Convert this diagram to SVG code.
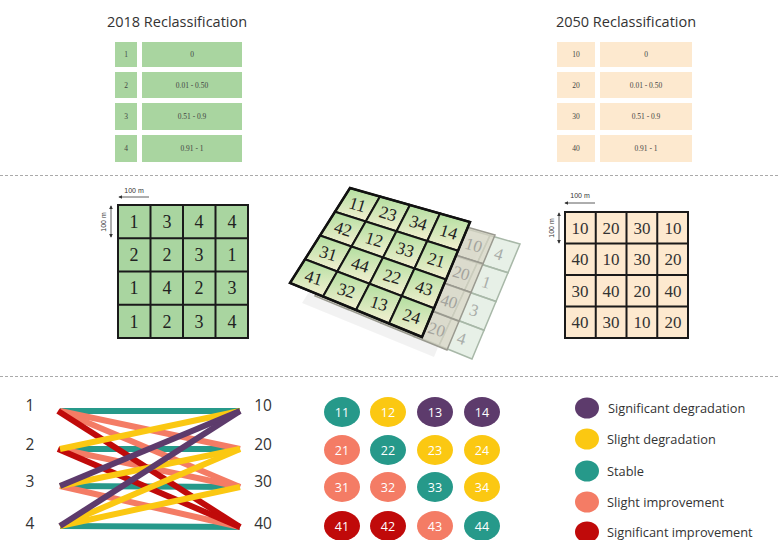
<svg xmlns="http://www.w3.org/2000/svg" xmlns:xlink="http://www.w3.org/1999/xlink" width="779" height="540" viewBox="0 0 779 540">
<style>
.title{font-family:"Open Sans","Liberation Sans",sans-serif;font-size:14.5px;fill:#333;text-anchor:middle}
.tc{font-family:"Liberation Serif",serif;font-size:7.5px;fill:#444;text-anchor:middle}
.g18{fill:#a9d5a0}
.g50{fill:#fde9cf}
.gn{font-family:"Liberation Serif",serif;font-size:18px;fill:#222;text-anchor:middle}
.gn50{font-family:"Liberation Serif",serif;font-size:17px;fill:#333;text-anchor:middle}
.grid{fill:none;stroke:#1a1a1a;stroke-width:2}
.scale{font-family:"Liberation Sans",sans-serif;font-size:7px;fill:#333;text-anchor:middle}
.sl{stroke:#333;stroke-width:0.8;fill:none}
.fn{font-family:"Liberation Serif",serif;font-size:17.5px;fill:#222;text-anchor:middle}
.bn{font-family:"Liberation Serif",serif;font-size:17px;fill:#777;text-anchor:middle;opacity:0.55}
.lab{font-family:"Open Sans","Liberation Sans",sans-serif;font-size:15.5px;fill:#333;text-anchor:middle}
.ln{stroke-width:6;fill:none}
.teal{stroke:#26998a}.salmon{stroke:#f47c65}.red{stroke:#c00a0a}.yellow{stroke:#fbc812}.purple{stroke:#5d3b6c}
.cn{font-family:"Open Sans","Liberation Sans",sans-serif;font-size:12.5px;fill:#fff;text-anchor:middle}
.leg{font-family:"Open Sans","Liberation Sans",sans-serif;font-size:12.8px;fill:#333}
.sep{stroke:#aaa;stroke-width:1;stroke-dasharray:3 2}
</style>
<defs>
<linearGradient id="cellGrad" x1="0" y1="0" x2="0" y2="1">
<stop offset="0" stop-color="#b2de9f"/>
<stop offset="1" stop-color="#f4f0d2"/>
</linearGradient>
<marker id="ar" viewBox="0 0 6 6" refX="5" refY="3" markerWidth="5" markerHeight="5" orient="auto-start-reverse">
<path d="M0,0 L6,3 L0,6 z" fill="#333"/>
</marker>
<g id="quads">
<polygon points="350,188 380,196.5 365.75,221.5 335,211.75"/>
<polygon points="380,196.5 410,205 396.5,231.25 365.75,221.5"/>
<polygon points="410,205 440,213.5 427.25,241 396.5,231.25"/>
<polygon points="440,213.5 470,222 458,250.75 427.25,241"/>
<polygon points="335,211.75 365.75,221.5 351.5,246.5 320,235.5"/>
<polygon points="365.75,221.5 396.5,231.25 383,257.5 351.5,246.5"/>
<polygon points="396.5,231.25 427.25,241 414.5,268.5 383,257.5"/>
<polygon points="427.25,241 458,250.75 446,279.5 414.5,268.5"/>
<polygon points="320,235.5 351.5,246.5 337.25,271.5 305,259.25"/>
<polygon points="351.5,246.5 383,257.5 369.5,283.75 337.25,271.5"/>
<polygon points="383,257.5 414.5,268.5 401.75,296 369.5,283.75"/>
<polygon points="414.5,268.5 446,279.5 434,308.25 401.75,296"/>
<polygon points="305,259.25 337.25,271.5 323,296.5 290,283"/>
<polygon points="337.25,271.5 369.5,283.75 356,310 323,296.5"/>
<polygon points="369.5,283.75 401.75,296 389,323.5 356,310"/>
<polygon points="401.75,296 434,308.25 422,337 389,323.5"/>
</g>
</defs>
<rect width="779" height="540" fill="#fff"/>

<g id="table2018">
<text class="title" x="177" y="27">2018 Reclassification</text>
<rect class="g18" x="115" y="42" width="22" height="25"/><rect class="g18" x="142" y="42" width="100" height="25"/>
<rect class="g18" x="115" y="72" width="22" height="26"/><rect class="g18" x="142" y="72" width="100" height="26"/>
<rect class="g18" x="115" y="103" width="22" height="27"/><rect class="g18" x="142" y="103" width="100" height="27"/>
<rect class="g18" x="115" y="135" width="22" height="27"/><rect class="g18" x="142" y="135" width="100" height="27"/>
<text class="tc" x="126" y="57">1</text><text class="tc" x="192" y="57">0</text>
<text class="tc" x="126" y="88">2</text><text class="tc" x="192" y="88">0.01 - 0.50</text>
<text class="tc" x="126" y="119">3</text><text class="tc" x="192" y="119">0.51 - 0.9</text>
<text class="tc" x="126" y="151">4</text><text class="tc" x="192" y="151">0.91 - 1</text>
</g>

<g id="table2050">
<text class="title" x="626" y="27">2050 Reclassification</text>
<rect class="g50" x="557" y="42" width="38" height="25"/><rect class="g50" x="600" y="42" width="92" height="25"/>
<rect class="g50" x="557" y="72" width="38" height="26"/><rect class="g50" x="600" y="72" width="92" height="26"/>
<rect class="g50" x="557" y="103" width="38" height="27"/><rect class="g50" x="600" y="103" width="92" height="27"/>
<rect class="g50" x="557" y="135" width="38" height="27"/><rect class="g50" x="600" y="135" width="92" height="27"/>
<text class="tc" x="576" y="57">10</text><text class="tc" x="646" y="57">0</text>
<text class="tc" x="576" y="88">20</text><text class="tc" x="646" y="88">0.01 - 0.50</text>
<text class="tc" x="576" y="119">30</text><text class="tc" x="646" y="119">0.51 - 0.9</text>
<text class="tc" x="576" y="151">40</text><text class="tc" x="646" y="151">0.91 - 1</text>
</g>

<line class="sep" x1="0" y1="175.5" x2="779" y2="175.5"/>
<line class="sep" x1="0" y1="376.5" x2="779" y2="376.5"/>

<g id="grid2018">
<rect class="g18" x="118" y="205" width="130" height="133"/>
<path class="grid" d="M118,205H248V338H118Z M150.5,205V338 M183,205V338 M215.5,205V338 M118,238.25H248 M118,271.5H248 M118,304.75H248"/>
<text class="scale" x="134" y="193">100 m</text>
<line class="sl" x1="119" y1="197" x2="149" y2="197" marker-start="url(#ar)"/>
<line class="sl" x1="111" y1="206" x2="111" y2="237" marker-start="url(#ar)" marker-end="url(#ar)"/>
<text class="scale" transform="translate(106,222) rotate(-90)">100 m</text>
<text class="gn" x="134" y="228">1</text><text class="gn" x="167" y="228">3</text><text class="gn" x="199" y="228">4</text><text class="gn" x="232" y="228">4</text>
<text class="gn" x="134" y="261">2</text><text class="gn" x="167" y="261">2</text><text class="gn" x="199" y="261">3</text><text class="gn" x="232" y="261">1</text>
<text class="gn" x="134" y="294">1</text><text class="gn" x="167" y="294">4</text><text class="gn" x="199" y="294">2</text><text class="gn" x="232" y="294">3</text>
<text class="gn" x="134" y="328">1</text><text class="gn" x="167" y="328">2</text><text class="gn" x="199" y="328">3</text><text class="gn" x="232" y="328">4</text>
</g>

<g id="grid2050">
<rect class="g50" x="565" y="212" width="123" height="126"/>
<path class="grid" d="M565,212H688V338H565Z M595.75,212V338 M626.5,212V338 M657.25,212V338 M565,243.5H688 M565,275H688 M565,306.5H688"/>
<text class="scale" x="580" y="198">100 m</text>
<line class="sl" x1="565" y1="203" x2="595" y2="203" marker-start="url(#ar)"/>
<line class="sl" x1="559" y1="213" x2="559" y2="243" marker-start="url(#ar)" marker-end="url(#ar)"/>
<text class="scale" transform="translate(554,228) rotate(-90)">100 m</text>
<text class="gn50" x="580" y="234">10</text><text class="gn50" x="611" y="234">20</text><text class="gn50" x="642" y="234">30</text><text class="gn50" x="673" y="234">10</text>
<text class="gn50" x="580" y="265">40</text><text class="gn50" x="611" y="265">10</text><text class="gn50" x="642" y="265">30</text><text class="gn50" x="673" y="265">20</text>
<text class="gn50" x="580" y="297">30</text><text class="gn50" x="611" y="297">40</text><text class="gn50" x="642" y="297">20</text><text class="gn50" x="673" y="297">40</text>
<text class="gn50" x="580" y="328">40</text><text class="gn50" x="611" y="328">30</text><text class="gn50" x="642" y="328">10</text><text class="gn50" x="673" y="328">20</text>
</g>

<g id="stack3d">
<polygon points="350,188 470,222 422,337 290,283" transform="translate(12,20)" fill="#000" opacity="0.05"/>
<use xlink:href="#quads" href="#quads" transform="translate(50,22)" fill="#d3e3d3" fill-opacity="0.55" stroke="#a8b8a8" stroke-width="1.5"/>
<g transform="translate(50,22)">
<text class="bn" transform="translate(448.8,231.8) matrix(0.96,0.28,-0.3,0.95,0,0)" y="6">4</text>
<text class="bn" transform="translate(436.4,259.9) matrix(0.96,0.28,-0.3,0.95,0,0)" y="6">1</text>
<text class="bn" transform="translate(424.1,288.1) matrix(0.96,0.28,-0.3,0.95,0,0)" y="6">3</text>
<text class="bn" transform="translate(411.7,316.2) matrix(0.96,0.28,-0.3,0.95,0,0)" y="6">4</text>
</g>
<use xlink:href="#quads" href="#quads" transform="translate(25,13)" fill="#d9d4c4" fill-opacity="0.7" stroke="#9a9a90" stroke-width="1.5"/>
<g transform="translate(25,13)">
<text class="bn" transform="translate(448.8,231.8) matrix(0.96,0.28,-0.3,0.95,0,0)" y="6">10</text>
<text class="bn" transform="translate(436.4,259.9) matrix(0.96,0.28,-0.3,0.95,0,0)" y="6">20</text>
<text class="bn" transform="translate(424.1,288.1) matrix(0.96,0.28,-0.3,0.95,0,0)" y="6">40</text>
<text class="bn" transform="translate(411.7,316.2) matrix(0.96,0.28,-0.3,0.95,0,0)" y="6">20</text>
</g>
<use xlink:href="#quads" href="#quads" fill="url(#cellGrad)" stroke="#151515" stroke-width="2"/>
<polygon points="350,188 470,222 422,337 290,283" fill="none" stroke="#111" stroke-width="2.5"/>
<g>
<text class="fn" transform="translate(357.7,204.4) matrix(0.96,0.28,-0.3,0.95,0,0)" y="6">11</text>
<text class="fn" transform="translate(388.1,213.6) matrix(0.96,0.28,-0.3,0.95,0,0)" y="6">23</text>
<text class="fn" transform="translate(418.4,222.7) matrix(0.96,0.28,-0.3,0.95,0,0)" y="6">34</text>
<text class="fn" transform="translate(448.8,231.8) matrix(0.96,0.28,-0.3,0.95,0,0)" y="6">14</text>
<text class="fn" transform="translate(343.1,228.8) matrix(0.96,0.28,-0.3,0.95,0,0)" y="6">42</text>
<text class="fn" transform="translate(374.2,239.2) matrix(0.96,0.28,-0.3,0.95,0,0)" y="6">12</text>
<text class="fn" transform="translate(405.3,249.6) matrix(0.96,0.28,-0.3,0.95,0,0)" y="6">33</text>
<text class="fn" transform="translate(436.4,259.9) matrix(0.96,0.28,-0.3,0.95,0,0)" y="6">21</text>
<text class="fn" transform="translate(328.4,253.2) matrix(0.96,0.28,-0.3,0.95,0,0)" y="6">31</text>
<text class="fn" transform="translate(360.3,264.8) matrix(0.96,0.28,-0.3,0.95,0,0)" y="6">44</text>
<text class="fn" transform="translate(392.2,276.4) matrix(0.96,0.28,-0.3,0.95,0,0)" y="6">22</text>
<text class="fn" transform="translate(424.1,288.1) matrix(0.96,0.28,-0.3,0.95,0,0)" y="6">43</text>
<text class="fn" transform="translate(313.8,277.6) matrix(0.96,0.28,-0.3,0.95,0,0)" y="6">41</text>
<text class="fn" transform="translate(346.4,290.4) matrix(0.96,0.28,-0.3,0.95,0,0)" y="6">32</text>
<text class="fn" transform="translate(379.1,303.3) matrix(0.96,0.28,-0.3,0.95,0,0)" y="6">13</text>
<text class="fn" transform="translate(411.7,316.2) matrix(0.96,0.28,-0.3,0.95,0,0)" y="6">24</text>
</g>
</g>

<g id="labels-left">
<text class="lab" x="30" y="411">1</text>
<text class="lab" x="30" y="450">2</text>
<text class="lab" x="30" y="487">3</text>
<text class="lab" x="30" y="529">4</text>
</g>
<g id="labels-right">
<text class="lab" x="263" y="411">10</text>
<text class="lab" x="263" y="450">20</text>
<text class="lab" x="263" y="487">30</text>
<text class="lab" x="263" y="529">40</text>
</g>
<g id="connectors">
<line class="ln teal" x1="60" y1="411" x2="240" y2="411"/>
<line class="ln teal" x1="60" y1="449" x2="240" y2="449"/>
<line class="ln teal" x1="60" y1="486" x2="240" y2="487"/>
<line class="ln teal" x1="60" y1="526" x2="240" y2="527"/>
<line class="ln salmon" x1="60" y1="411" x2="240" y2="449"/>
<line class="ln salmon" x1="60" y1="411" x2="240" y2="487"/>
<line class="ln salmon" x1="60" y1="449" x2="240" y2="487"/>
<line class="ln salmon" x1="60" y1="486" x2="240" y2="527"/>
<line class="ln red" x1="58" y1="411" x2="240" y2="527"/>
<line class="ln red" x1="58" y1="449" x2="240" y2="527"/>
<line class="ln yellow" x1="60" y1="449" x2="240" y2="411"/>
<line class="ln yellow" x1="60" y1="486" x2="240" y2="449"/>
<line class="ln yellow" x1="60" y1="526" x2="240" y2="449"/>
<line class="ln yellow" x1="60" y1="526" x2="240" y2="487"/>
<line class="ln purple" x1="60" y1="486" x2="240" y2="411"/>
<line class="ln purple" x1="60" y1="526" x2="240" y2="411"/>
</g>

<g id="matrix">
<ellipse cx="342" cy="412" rx="18" ry="15" fill="#26998a"/><text class="cn" x="342" y="416.5">11</text>
<ellipse cx="388" cy="412" rx="18" ry="15" fill="#fbc812"/><text class="cn" x="388" y="416.5">12</text>
<ellipse cx="435" cy="412" rx="18" ry="15" fill="#5d3b6c"/><text class="cn" x="435" y="416.5">13</text>
<ellipse cx="482" cy="412" rx="18" ry="15" fill="#5d3b6c"/><text class="cn" x="482" y="416.5">14</text>
<ellipse cx="342" cy="450" rx="18" ry="15" fill="#f47c65"/><text class="cn" x="342" y="454.5">21</text>
<ellipse cx="388" cy="450" rx="18" ry="15" fill="#26998a"/><text class="cn" x="388" y="454.5">22</text>
<ellipse cx="435" cy="450" rx="18" ry="15" fill="#fbc812"/><text class="cn" x="435" y="454.5">23</text>
<ellipse cx="482" cy="450" rx="18" ry="15" fill="#fbc812"/><text class="cn" x="482" y="454.5">24</text>
<ellipse cx="342" cy="487" rx="18" ry="15" fill="#f47c65"/><text class="cn" x="342" y="491.5">31</text>
<ellipse cx="388" cy="487" rx="18" ry="15" fill="#f47c65"/><text class="cn" x="388" y="491.5">32</text>
<ellipse cx="435" cy="487" rx="18" ry="15" fill="#26998a"/><text class="cn" x="435" y="491.5">33</text>
<ellipse cx="482" cy="487" rx="18" ry="15" fill="#fbc812"/><text class="cn" x="482" y="491.5">34</text>
<ellipse cx="342" cy="526" rx="18" ry="15" fill="#c00a0a"/><text class="cn" x="342" y="530.5">41</text>
<ellipse cx="388" cy="526" rx="18" ry="15" fill="#c00a0a"/><text class="cn" x="388" y="530.5">42</text>
<ellipse cx="435" cy="526" rx="18" ry="15" fill="#f47c65"/><text class="cn" x="435" y="530.5">43</text>
<ellipse cx="482" cy="526" rx="18" ry="15" fill="#26998a"/><text class="cn" x="482" y="530.5">44</text>
</g>

<g id="legend">
<ellipse cx="587" cy="408" rx="12" ry="10.5" fill="#5d3b6c"/><text class="leg" x="608" y="412.5">Significant degradation</text>
<ellipse cx="587" cy="439" rx="12" ry="10.5" fill="#fbc812"/><text class="leg" x="607" y="443.5">Slight degradation</text>
<ellipse cx="587" cy="471" rx="12" ry="10.5" fill="#26998a"/><text class="leg" x="607" y="475.5">Stable</text>
<ellipse cx="587" cy="502" rx="12" ry="10.5" fill="#f47c65"/><text class="leg" x="607" y="506.5">Slight improvement</text>
<ellipse cx="587" cy="532" rx="12" ry="10.5" fill="#c00a0a"/><text class="leg" x="607" y="536.5">Significant improvement</text>
</g>
</svg>
